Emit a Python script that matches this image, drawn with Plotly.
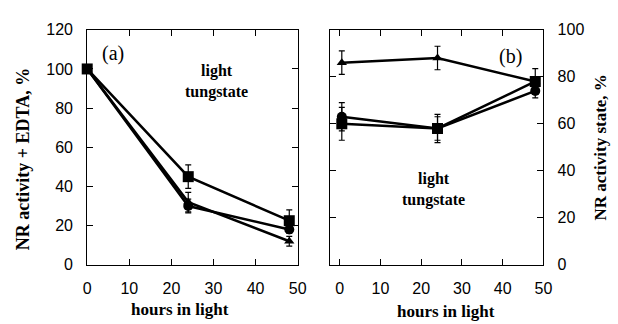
import plotly.graph_objects as go

hours = [0, 24, 48]

# Panel (a): NR activity + EDTA, %
a_square = [100, 45, 22.5]
a_square_err = [0, 6, 5.5]
a_circle = [100, 30, 18]
a_circle_err = [0, 3.5, 2]
a_triangle = [100, 32, 12]
a_triangle_err = [0, 5, 2.5]

# Panel (b): NR activity state, %
b_hours = [0.5, 24, 48]
b_triangle = [86, 88, 78]
b_triangle_err = [5, 5, 0]
b_circle = [63, 58, 74]
b_circle_err = [6, 6, 3]
b_square = [60, 58, 78]
b_square_err = [7, 5, 5.5]

x_ticks = [0, 10, 20, 30, 40, 50]
a_y_ticks = [0, 20, 40, 60, 80, 100, 120]
b_y_ticks = [0, 20, 40, 60, 80, 100]

fig = go.Figure()

def add(x, y, err, symbol, size, xa, ya):
    fig.add_trace(go.Scatter(
        x=x, y=y, mode="lines+markers",
        line=dict(color="black", width=2.5),
        marker=dict(symbol=symbol, size=size, color="black"),
        error_y=dict(type="data", array=err, visible=True, color="black", thickness=1.2, width=3),
        xaxis=xa, yaxis=ya, showlegend=False, cliponaxis=False))

add(hours, a_triangle, a_triangle_err, "triangle-up", 9, "x", "y")
add(hours, a_circle, a_circle_err, "circle", 10, "x", "y")
add(hours, a_square, a_square_err, "square", 11, "x", "y")

add(b_hours, b_triangle, b_triangle_err, "triangle-up", 9, "x2", "y2")
add(b_hours, b_circle, b_circle_err, "circle", 10, "x2", "y2")
add(b_hours, b_square, b_square_err, "square", 11, "x2", "y2")

tickfont = dict(family="Liberation Sans, Arial", size=16, color="black")
common = dict(showline=True, linecolor="black", linewidth=1, mirror="ticks", ticks="inside",
              ticklen=6, tickcolor="black", showgrid=False, zeroline=False, tickfont=tickfont)

fig.update_layout(
    width=618, height=324, margin=dict(l=0, r=0, t=0, b=0),
    paper_bgcolor="white", plot_bgcolor="white",
    xaxis=dict(domain=[85/618, 300/618], range=[0, 50], tickvals=x_ticks, anchor="y",
               ticklabelstandoff=9, **common),
    yaxis=dict(domain=[1-271/324, 1-23/324], range=[0, 120], tickvals=a_y_ticks, anchor="x",
               ticklabelstandoff=10, **common),
    xaxis2=dict(domain=[333/618, 551/618], range=[-2.4, 50], tickvals=x_ticks, anchor="y2",
                ticklabelstandoff=9, **common),
    yaxis2=dict(domain=[1-271/324, 1-23/324], range=[0, 100], tickvals=b_y_ticks, anchor="x2",
                side="right", ticklabelstandoff=10, **common),
)

serif_b = dict(family="Liberation Serif, Times New Roman", size=17, color="black")
serif_y = dict(family="Liberation Serif, Times New Roman", size=18, color="black")
serif = dict(family="Liberation Serif, Times New Roman", size=20, color="black")
label_font = dict(family="Liberation Serif", size=16, color="black")

anns = [
    dict(text="<b>hours in light</b>", x=180, y=318, font=serif_b),
    dict(text="<b>hours in light</b>", x=452, y=320, font=serif_b),
    dict(text="<b>NR activity + EDTA, %</b>", x=19, y=160, font=serif_y, textangle=-90),
    dict(text="<b>NR activity state, %</b>", x=609, y=147, font=serif_b, textangle=-90),
    dict(text="(a)", x=111, y=48, font=serif),
    dict(text="(b)", x=517, y=51, font=serif),
    dict(text="<b>light<br>tungstate</b>", x=217, y=78, font=label_font),
    dict(text="<b>light<br>tungstate</b>", x=439, y=192, font=label_font),
]
for a in anns:
    fig.add_annotation(text=a["text"], x=a["x"]/618, y=1-a["y"]/324, xref="paper", yref="paper",
                       showarrow=False, font=a["font"], textangle=a.get("textangle", 0),
                       xanchor="center", yanchor="middle")

fig.write_html("out.html")
